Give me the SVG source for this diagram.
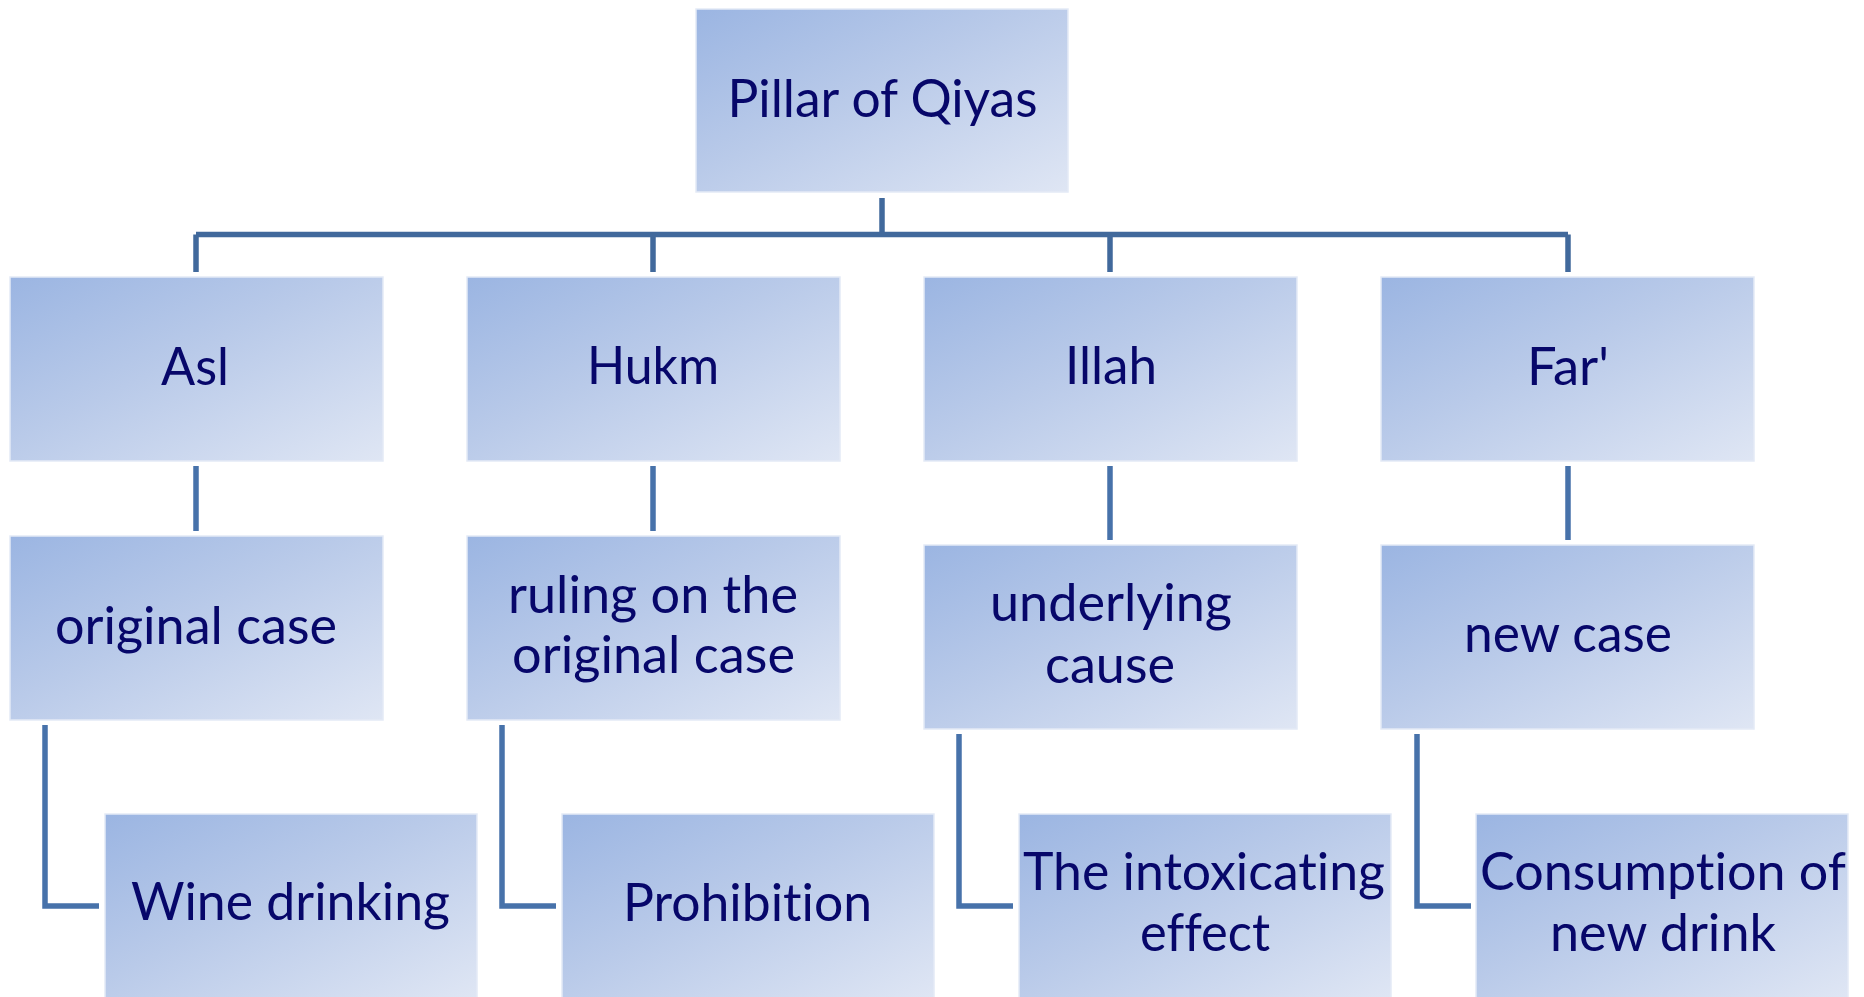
<svg xmlns="http://www.w3.org/2000/svg" width="1864" height="997" viewBox="0 0 1864 997">
  <defs>
    <linearGradient id="boxFill" x1="0" y1="0" x2="1" y2="1">
      <stop offset="0" stop-color="#9bb5e2"/>
      <stop offset="0.45" stop-color="#b9cae9"/>
      <stop offset="1" stop-color="#dfe6f4"/>
    </linearGradient>
  </defs>
  <style>
    .box { fill: url(#boxFill); stroke: #e4eaf6; stroke-width: 1.5; }
    .lbl { font-family: Lato, "Open Sans", "Liberation Sans", sans-serif; font-size: 52px; fill: #07076a; text-anchor: middle;
           font-variant-ligatures: none; font-feature-settings: "liga" 0, "clig" 0, "dlig" 0; }
    .tree { fill: none; stroke: #41699c; stroke-width: 5.5; }
    .link { fill: none; stroke: #4772aa; stroke-width: 5.5; }
  </style>

  <rect width="1864" height="997" fill="#ffffff"/>

  <!-- connectors -->
  <g id="connectors">
    <path class="tree" d="M882 198 V234.5 M196 234.5 H1568 M196 234.5 V272 M653 234.5 V272 M1110 234.5 V272 M1568 234.5 V272"/>
    <path class="link" d="M196 466 V531 M653 466 V531 M1110 466 V540 M1568 466 V540"/>
    <path class="link" d="M45 725 V906 H99 M502 725 V906 H556 M959 734 V906 H1013 M1417 734 V906 H1471"/>
  </g>

  <!-- root -->
  <g id="pillar">
    <rect class="box" x="696" y="9" width="372" height="183"/>
    <text class="lbl" x="882.5" y="117" textLength="310" lengthAdjust="spacingAndGlyphs">Pillar of Qiyas</text>
  </g>

  <!-- pillars -->
  <g id="asl">
    <rect class="box" x="10" y="277" width="373" height="184"/>
    <text class="lbl" x="195" y="385" textLength="68" lengthAdjust="spacingAndGlyphs">Asl</text>
  </g>
  <g id="hukm">
    <rect class="box" x="467" y="277" width="373" height="184"/>
    <text class="lbl" x="653" y="384" textLength="132" lengthAdjust="spacingAndGlyphs">Hukm</text>
  </g>
  <g id="illah">
    <rect class="box" x="924" y="277" width="373" height="184"/>
    <text class="lbl" x="1111" y="384" textLength="92" lengthAdjust="spacingAndGlyphs">Illah</text>
  </g>
  <g id="far">
    <rect class="box" x="1381" y="277" width="373" height="184"/>
    <text class="lbl" x="1568" y="385" textLength="82" lengthAdjust="spacingAndGlyphs">Far'</text>
  </g>

  <!-- meanings -->
  <g id="original-case">
    <rect class="box" x="10" y="536" width="373" height="184"/>
    <text class="lbl" x="196" y="644" textLength="282" lengthAdjust="spacingAndGlyphs">original case</text>
  </g>
  <g id="ruling">
    <rect class="box" x="467" y="536" width="373" height="184"/>
    <text class="lbl" x="653" y="613" textLength="290" lengthAdjust="spacingAndGlyphs">ruling on the</text>
    <text class="lbl" x="653.5" y="673" textLength="283" lengthAdjust="spacingAndGlyphs">original case</text>
  </g>
  <g id="underlying-cause">
    <rect class="box" x="924" y="545" width="373" height="184"/>
    <text class="lbl" x="1111" y="621" textLength="242" lengthAdjust="spacingAndGlyphs">underlying</text>
    <text class="lbl" x="1110" y="683" textLength="130" lengthAdjust="spacingAndGlyphs">cause</text>
  </g>
  <g id="new-case">
    <rect class="box" x="1381" y="545" width="373" height="184"/>
    <text class="lbl" x="1568" y="652" textLength="208" lengthAdjust="spacingAndGlyphs">new case</text>
  </g>

  <!-- examples -->
  <g id="wine-drinking">
    <rect class="box" x="105" y="814" width="372" height="184"/>
    <text class="lbl" x="290.5" y="920" textLength="319" lengthAdjust="spacingAndGlyphs">Wine drinking</text>
  </g>
  <g id="prohibition">
    <rect class="box" x="562" y="814" width="372" height="184"/>
    <text class="lbl" x="747.5" y="921" textLength="249" lengthAdjust="spacingAndGlyphs">Prohibition</text>
  </g>
  <g id="intoxicating-effect">
    <rect class="box" x="1019" y="814" width="372" height="184"/>
    <text class="lbl" x="1204" y="890" textLength="362" lengthAdjust="spacingAndGlyphs">The intoxicating</text>
    <text class="lbl" x="1205" y="951" textLength="130" lengthAdjust="spacingAndGlyphs">effect</text>
  </g>
  <g id="new-drink">
    <rect class="box" x="1476" y="814" width="372" height="184"/>
    <text class="lbl" x="1663" y="890" textLength="366" lengthAdjust="spacingAndGlyphs">Consumption of</text>
    <text class="lbl" x="1663" y="951" textLength="226" lengthAdjust="spacingAndGlyphs">new drink</text>
  </g>
</svg>
